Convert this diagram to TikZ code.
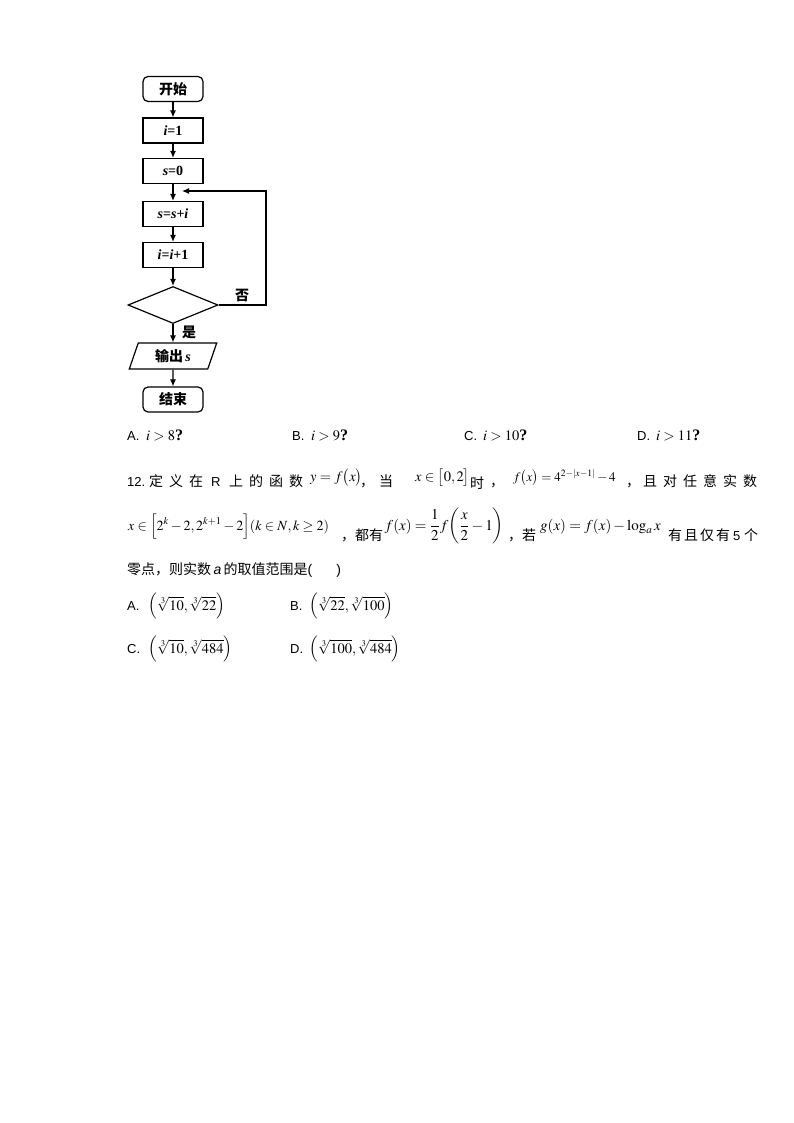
\documentclass[tikz,border=0pt]{standalone}
\usepackage{amsmath}
\usepackage{mathptmx}
\usepackage[no-math]{fontspec}
\setmainfont{Liberation Sans}
\newfontfamily\cjk{Noto Sans CJK SC}
\newfontfamily\tnr{Liberation Serif}
\usetikzlibrary{shapes.geometric,arrows.meta}
\tikzset{
  box/.style={draw, line width=1.2pt, minimum width=60pt, minimum height=25pt, inner sep=0pt,
    font=\fontsize{14}{16}\selectfont},
  term/.style={box, rounded corners=5pt},
  arr/.style={line width=1.1pt, -{Latex[length=7pt,width=6pt]}},
  txt/.style={anchor=base west, inner sep=0pt, font=\fontsize{13}{15}\selectfont},
  cj/.style={anchor=base west, inner sep=0pt, font=\fontsize{14}{16}\selectfont\cjk},
  mth/.style={anchor=base west, inner sep=0pt, font=\fontsize{13}{15}\selectfont},
  mthm/.style={anchor=base west, inner sep=0pt, font=\fontsize{14}{16}\selectfont},
  mthl/.style={anchor=base west, inner sep=0pt, font=\fontsize{14.5}{16}\selectfont},
  mthxl/.style={anchor=base west, inner sep=0pt, font=\fontsize{15}{17}\selectfont},
}
\newcommand{\qm}{{\tnr\bfseries\fontsize{16}{17}\selectfont ?}}
\begin{document}
\begin{tikzpicture}[x=1pt,y=-1pt]
\useasboundingbox[fill=white] (0,0) rectangle (794,1123);
% ---------- flowchart ----------
\node[term] (start) at (173,89) {\cjk\bfseries 开始};
\node[box] (n1) at (173,130.5) {\tnr\bfseries{\itshape i}=1};
\node[box] (n2) at (173,171) {\tnr\bfseries{\itshape s}=0};
\node[box] (n3) at (173,214) {\tnr\bfseries{\itshape s}={\itshape s}+{\itshape i}};
\node[box] (n4) at (173,255) {\tnr\bfseries{\itshape i}={\itshape i}+1};
\node[draw, diamond, line width=1.2pt, minimum width=90pt, minimum height=37pt, inner sep=0pt] (dec) at (173,305) {};
\node[draw, trapezium, trapezium left angle=71, trapezium right angle=109, line width=1.2pt,
      minimum width=88pt, minimum height=26pt, inner sep=0pt,
      font=\fontsize{14}{16}\selectfont] (out) at (173,356) {\cjk\bfseries 输出\,{\tnr\bfseries\itshape s}};
\node[term] (end) at (173,399.5) {\cjk\bfseries 结束};
\coordinate (rc) at (266,305);
\coordinate (lp) at (182,191);
\draw[arr] (start) -- (n1);
\draw[arr] (n1) -- (n2);
\draw[arr] (n2) -- (n3);
\draw[arr] (n3) -- (n4);
\draw[arr] (n4) -- (dec);
\draw[arr] (dec) -- (out);
\draw[arr] (out) -- (end);
\draw[arr] (dec.east) -- (rc) |- (lp);
\node[cj, font=\fontsize{14}{16}\selectfont\cjk\bfseries] (no) at (235,300) {否};
\node[cj, font=\fontsize{14}{16}\selectfont\cjk\bfseries] (yes) at (182,337) {是};
% ---------- choices ----------
\node[txt] (ca) at (127,440) {A.};
\node[mthl] (cam) at (146,440) {$i>8$\qm};
\node[txt] (cb) at (292,440) {B.};
\node[mthl] (cbm) at (311,440) {$i>9$\qm};
\node[txt] (cc) at (464,440) {C.};
\node[mthl] (ccm) at (483,440) {$i>10$\qm};
\node[txt] (cd) at (637,440) {D.};
\node[mthl] (cdm) at (656,440) {$i>11$\qm};
% ---------- question 12, line 1 ----------
\node[txt] (q1) at (127,486) {12.};
\node[cj] (q2) at (149,486) {定};
\node[cj] (q3) at (169,486) {义};
\node[cj] (q4) at (189,486) {在};
\node[txt] (q5) at (211,486) {R};
\node[cj] (q6) at (229,486) {上};
\node[cj] (q7) at (249,486) {的};
\node[cj] (q8) at (269,486) {函};
\node[cj] (q9) at (289,486) {数};
\node[mthl] (q10) at (310,481) {$y=f\bigl(x\bigr)$};
\node[cj] (q11) at (360,486) {，};
\node[cj] (q12) at (379,486) {当};
\node[mthl] (q13) at (415,481) {$x\in\bigl[0,2\bigr]$};
\node[cj] (q14) at (470,488) {时};
\node[cj] (q15) at (490,486) {，};
\node[mth] (q16) at (513,481) {$f\bigl(x\bigr)=4^{2-|x-1|}-4$};
\node[cj] (q17) at (626,486) {，};
\node[cj] (q18) at (643,486) {且};
\node[cj] (q19) at (663,486) {对};
\node[cj] (q20) at (683,486) {任};
\node[cj] (q21) at (703,486) {意};
\node[cj] (q22) at (723,486) {实};
\node[cj] (q23) at (743,486) {数};
% ---------- line 2 ----------
\node[mthm] (r1) at (128,530) {$x\in\Bigl[2^k-2,2^{k+1}-2\Bigr](k\in N,k\geq 2)$};
\node[cj] (r2) at (341,540) {，都有};
\node[mthxl, anchor=base east] (r3) at (504,530) {$f(x)=\dfrac{1}{2}f\biggl(\dfrac{x}{2}-1\biggr)$};
\node[cj] (r4) at (508,540) {，若};
\node[mthxl] (r5) at (540,530) {$g(x)=f(x)-\log_a x$};
\node[cj] (r6) at (668,540) {有};
\node[cj] (r7) at (684,540) {且};
\node[cj] (r8) at (700,540) {仅};
\node[cj] (r9) at (716,540) {有};
\node[txt] (r10) at (733,540) {5};
\node[cj] (r11) at (744,540) {个};
% ---------- line 3 ----------
\node[cj] (s1) at (127,574) {零点，则实数\,{\fontspec{Liberation Sans}\itshape a}\,的取值范围是{\fontspec{Liberation Sans}(}\hspace{24pt}{\fontspec{Liberation Sans})}};
% ---------- options ----------
\node[txt] (oa) at (127,610) {A.};
\node[mthl] (oam) at (148,610) {$\Bigl(\sqrt[3]{10},\sqrt[3]{22}\Bigr)$};
\node[txt] (ob) at (290,610) {B.};
\node[mthl] (obm) at (309,610) {$\Bigl(\sqrt[3]{22},\sqrt[3]{100}\Bigr)$};
\node[txt] (oc) at (127,653) {C.};
\node[mthl] (ocm) at (148,653) {$\Bigl(\sqrt[3]{10},\sqrt[3]{484}\Bigr)$};
\node[txt] (od) at (290,653) {D.};
\node[mthl] (odm) at (309,653) {$\Bigl(\sqrt[3]{100},\sqrt[3]{484}\Bigr)$};
\end{tikzpicture}
\end{document}
